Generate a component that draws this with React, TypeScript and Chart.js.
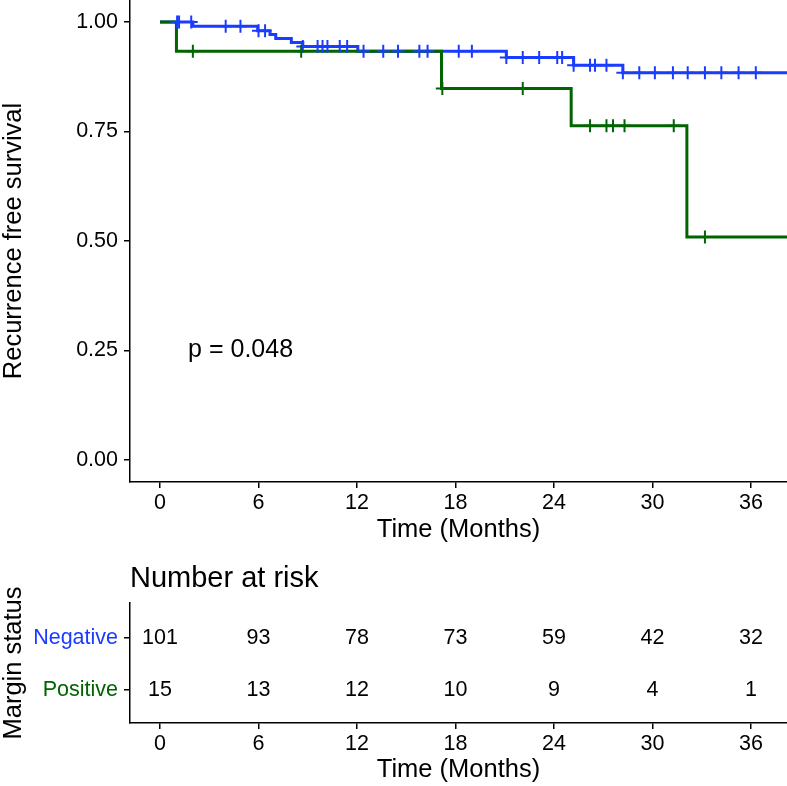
import React, { useEffect, useRef } from 'react';
import { Chart, registerables } from 'chart.js';
Chart.register(...registerables);

const FONT = '"Liberation Sans", Arial, Helvetica, sans-serif';

// axis ticks
const xTicks = [0, 6, 12, 18, 24, 30, 36];
const yTicks = [0, 0.25, 0.5, 0.75, 1];
const X_MIN = -1.83;
const X_MAX = 38.2;

// Margin negative (blue) KM steps
const negStepTimes = [0, 2.0, 5.95, 6.7, 7.05, 8.0, 8.7, 12.05, 21.1, 25.2, 28.2];
const negStepSurv = [1.0, 0.99, 0.98, 0.971, 0.962, 0.953, 0.944, 0.933, 0.919, 0.901, 0.884];
const negCensorTimes = [1.04, 1.16, 1.9, 4.0, 4.9, 6.0, 6.4, 8.7, 9.6, 9.9, 10.2, 10.95, 11.4, 12.4, 13.6, 14.5, 15.8, 16.3, 18.2, 19.0, 21.1, 22.1, 23.1, 24.2, 24.5, 25.2, 26.2, 26.5, 27.2, 28.2, 29.2, 30.15, 31.25, 32.15, 33.2, 34.2, 35.25, 36.3];

// Margin positive (green) KM steps
const posStepTimes = [0, 1.0, 17.15, 25.05, 32.1];
const posStepSurv = [1.0, 0.933, 0.848, 0.763, 0.509];
const posCensorTimes = [2.0, 8.6, 17.2, 22.1, 26.2, 27.2, 27.6, 28.3, 31.3, 33.2];

// risk table
const groups = ['Negative', 'Positive'];
const groupColors = ['#1a3cff', '#006400'];
const riskNegative = [101, 93, 78, 73, 59, 42, 32];
const riskPositive = [15, 13, 12, 10, 9, 4, 1];
const pValueText = 'p = 0.048';
const pValueX = 1.71;
const pValueY = 0.25;

function survAt(times: number[], surv: number[], t: number) {
  let s = surv[0];
  for (let i = 0; i < times.length; i++) if (times[i] <= t) s = surv[i];
  return s;
}

function stepPoints(times: number[], surv: number[]) {
  const pts = times.map((t, i) => ({ x: t, y: surv[i] }));
  pts.push({ x: X_MAX, y: surv[surv.length - 1] });
  return pts;
}

function censorPoints(times: number[], surv: number[], ct: number[]) {
  return ct.map((t) => ({ x: t, y: survAt(times, surv, t) }));
}

const axisCommon = {
  grid: { drawOnChartArea: false, drawTicks: true, tickLength: 6, color: '#000', lineWidth: 1.5 },
  border: { display: true, color: '#000', width: 1.5 },
};

const fitX = (s: any) => {
  s.height = 63;
  s.paddingLeft = 0;
  s.paddingRight = 0;
};
const fitY = (s: any) => {
  s.width = 130;
  s.paddingTop = 0;
  s.paddingBottom = 0;
};

export default function App() {
  const topRef = useRef<HTMLCanvasElement>(null);
  const botRef = useRef<HTMLCanvasElement>(null);

  useEffect(() => {
    Chart.defaults.font.family = FONT;
    const pPlugin = {
      id: 'pval',
      afterDatasetsDraw(chart: any) {
        const { ctx, scales } = chart;
        ctx.save();
        ctx.font = `25px ${FONT}`;
        ctx.fillStyle = '#000';
        ctx.textAlign = 'left';
        ctx.textBaseline = 'middle';
        ctx.fillText(pValueText, scales.x.getPixelForValue(pValueX), scales.y.getPixelForValue(pValueY));
        ctx.restore();
      },
    };
    const top = new Chart(topRef.current!, {
      type: 'line',
      data: {
        datasets: [
          {
            label: 'Negative',
            data: stepPoints(negStepTimes, negStepSurv),
            borderColor: groupColors[0],
            borderWidth: 3,
            pointRadius: 0,
            stepped: 'before',
            fill: false,
            order: 4,
          } as any,
          {
            label: 'Positive',
            data: stepPoints(posStepTimes, posStepSurv),
            borderColor: groupColors[1],
            borderWidth: 3,
            pointRadius: 0,
            stepped: 'before',
            fill: false,
            order: 3,
          },
          {
            label: 'Negative censor',
            data: censorPoints(negStepTimes, negStepSurv, negCensorTimes),
            showLine: false,
            pointStyle: 'cross',
            pointRadius: 6.5,
            pointBorderWidth: 2,
            pointBorderColor: groupColors[0],
            order: 2,
          },
          {
            label: 'Positive censor',
            data: censorPoints(posStepTimes, posStepSurv, posCensorTimes),
            showLine: false,
            pointStyle: 'cross',
            pointRadius: 6.5,
            pointBorderWidth: 2,
            pointBorderColor: groupColors[1],
            order: 1,
          },
        ],
      },
      options: {
        responsive: false,
        maintainAspectRatio: false,
        devicePixelRatio: 1,
        animation: false,
        events: [],
        layout: { padding: 0, autoPadding: false },
        plugins: { legend: { display: false }, tooltip: { enabled: false } },
        scales: {
          x: {
            type: 'linear',
            min: X_MIN,
            max: X_MAX,
            ...axisCommon,
            afterBuildTicks: (s: any) => {
              s.ticks = xTicks.map((v) => ({ value: v }));
            },
            afterFit: fitX,
            ticks: { color: '#000', font: { size: 21.5 }, padding: 2, maxRotation: 0, autoSkip: false },
            title: { display: true, text: 'Time (Months)', color: '#000', font: { size: 25.5 }, padding: { top: 0, bottom: 0 } },
          },
          y: {
            type: 'linear',
            min: -0.05,
            max: 1.05,
            ...axisCommon,
            afterBuildTicks: (s: any) => {
              s.ticks = yTicks.map((v) => ({ value: v }));
            },
            afterFit: fitY,
            ticks: { color: '#000', font: { size: 21.5 }, padding: 6, callback: (v: any) => Number(v).toFixed(2) },
            title: { display: true, text: 'Recurrence free survival', color: '#000', font: { size: 25.5, lineHeight: 1 }, padding: { top: 1, bottom: 0 } },
          },
        },
      },
      plugins: [pPlugin],
    } as any);

    const riskPlugin = {
      id: 'risk',
      afterDraw(chart: any) {
        const { ctx, scales, chartArea } = chart;
        ctx.save();
        ctx.fillStyle = '#000';
        ctx.font = `29px ${FONT}`;
        ctx.textAlign = 'left';
        ctx.textBaseline = 'middle';
        ctx.fillText('Number at risk', chartArea.left, 34);
        ctx.font = `21.5px ${FONT}`;
        ctx.textAlign = 'center';
        const rows = [riskNegative, riskPositive];
        rows.forEach((row, r) => {
          row.forEach((v, i) => {
            ctx.fillText(String(v), scales.x.getPixelForValue(xTicks[i]), scales.y.getPixelForValue(r + 1));
          });
        });
        ctx.restore();
      },
    };
    const bot = new Chart(botRef.current!, {
      type: 'scatter',
      data: { datasets: [] },
      options: {
        responsive: false,
        maintainAspectRatio: false,
        devicePixelRatio: 1,
        animation: false,
        events: [],
        layout: { padding: { top: 58, left: 0, right: 0, bottom: 0 }, autoPadding: false },
        plugins: { legend: { display: false }, tooltip: { enabled: false } },
        scales: {
          x: {
            type: 'linear',
            display: true,
            min: X_MIN,
            max: X_MAX,
            ...axisCommon,
            afterBuildTicks: (s: any) => {
              s.ticks = xTicks.map((v) => ({ value: v }));
            },
            afterFit: fitX,
            ticks: { color: '#000', font: { size: 21.5 }, padding: 2, maxRotation: 0, autoSkip: false },
            title: { display: true, text: 'Time (Months)', color: '#000', font: { size: 25.5 }, padding: { top: 0, bottom: 0.5 } },
          },
          y: {
            type: 'linear',
            display: true,
            min: 0.33,
            max: 2.63,
            reverse: true,
            ...axisCommon,
            afterBuildTicks: (s: any) => {
              s.ticks = [1, 2].map((v) => ({ value: v }));
            },
            afterFit: fitY,
            ticks: {
              font: { size: 21.5 },
              padding: 6,
              color: (c: any) => groupColors[(c.tick ? c.tick.value : c.index + 1) - 1] || '#000',
              callback: (v: any) => groups[Number(v) - 1],
            },
            title: { display: true, text: 'Margin status', color: '#000', font: { size: 25.5, lineHeight: 1 }, padding: { top: 1, bottom: 0 } },
          },
        },
      },
      plugins: [riskPlugin],
    } as any);

    return () => {
      top.destroy();
      bot.destroy();
    };
  }, []);

  return (
    <div style={{ position: 'absolute', left: 0, top: 0, width: 787, height: 786, background: '#fff' }}>
      <div style={{ position: 'absolute', left: 0, top: 0, width: 787, height: 545 }}>
        <canvas ref={topRef} width={787} height={545} style={{ display: 'block', width: 787, height: 545 }} />
      </div>
      <div style={{ position: 'absolute', left: 0, top: 545, width: 787, height: 241 }}>
        <canvas ref={botRef} width={787} height={241} style={{ display: 'block', width: 787, height: 241 }} />
      </div>
    </div>
  );
}
